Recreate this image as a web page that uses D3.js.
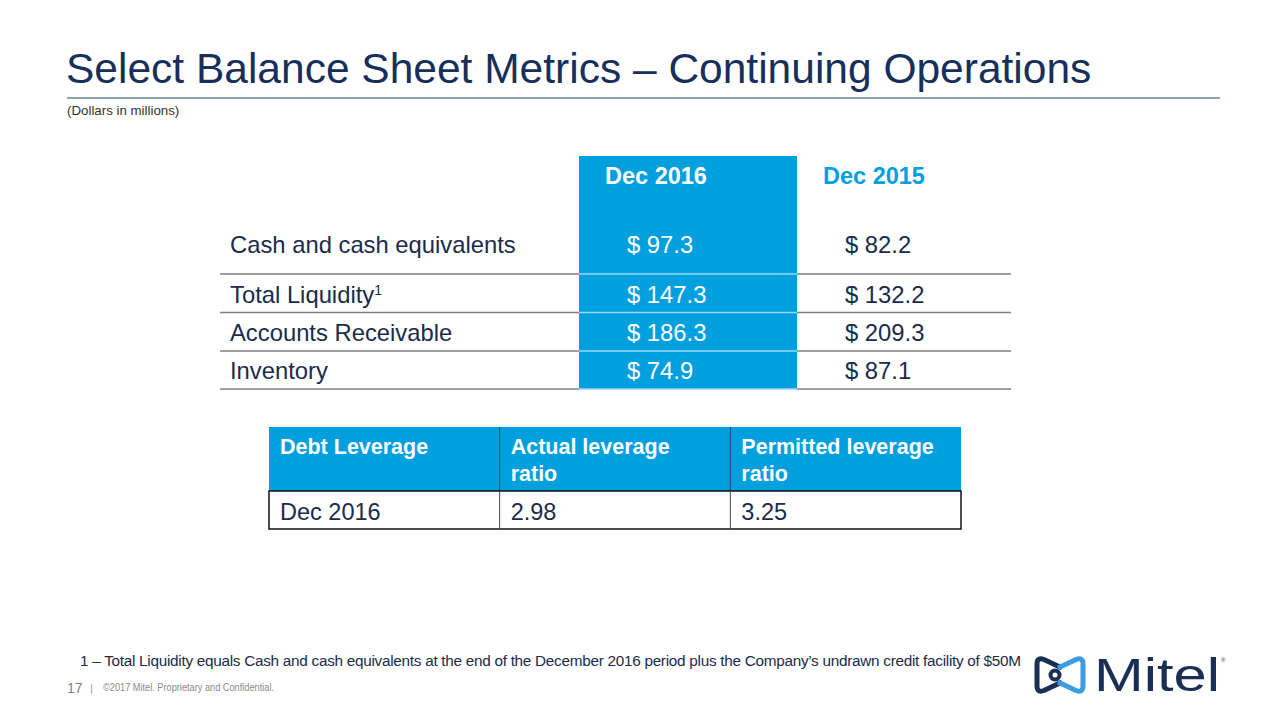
<!DOCTYPE html>
<html>
<head>
<meta charset="utf-8">
<script src="https://cdn.jsdelivr.net/npm/d3@7"></script>
<style>
  html, body { margin: 0; padding: 0; background: #ffffff; }
  svg { display: block; font-family: "Liberation Sans", Arial, sans-serif; }
</style>
</head>
<body>
<svg id="chart" width="1280" height="720"></svg>
<script>
// ---------- data ----------
const title = "Select Balance Sheet Metrics \u2013 Continuing Operations";
const subtitle = "(Dollars in millions)";
const periods = ["Dec 2016", "Dec 2015"];
const metrics = ["Cash and cash equivalents", "Total Liquidity", "Accounts Receivable", "Inventory"];
const metricNotes = ["", "1", "", ""];
const values2016 = [97.3, 147.3, 186.3, 74.9];
const values2015 = [82.2, 132.2, 209.3, 87.1];
const leverageHeaders = [["Debt Leverage"], ["Actual leverage", "ratio"], ["Permitted leverage", "ratio"]];
const leveragePeriod = "Dec 2016";
const leverageValues = [2.98, 3.25];
const footnote = "1 \u2013 Total Liquidity equals Cash and cash equivalents at the end of the December 2016 period plus the Company\u2019s undrawn credit facility of $50M";
const pageNumber = "17";
const copyright = "\u00a92017 Mitel. Proprietary and Confidential.";

// ---------- styles ----------
const NAVY = "#1a2b4c";
const TITLE = "#172f5b";
const BLUE = "#00a0df";
const svg = d3.select("#chart");

// ---------- title ----------
svg.append("text").attr("x", 66).attr("y", 83)
  .attr("font-size", 42.5).attr("fill", TITLE).text(title);
svg.append("line").attr("x1", 67).attr("x2", 1220).attr("y1", 98).attr("y2", 98)
  .attr("stroke", "#8ba6b1").attr("stroke-width", 2);
svg.append("text").attr("x", 67).attr("y", 115)
  .attr("font-size", 13.3).attr("fill", "#333").text(subtitle);

// ---------- table 1 ----------
const colKeys = ["label", ...periods];
const colX = d3.scaleOrdinal().domain(colKeys).range([220, 579, 797]);
const colEnd = d3.scaleOrdinal().domain(colKeys).range([579, 797, 1011]);
const tableTop = 156;
const rowBottom = d3.scaleOrdinal().domain(metrics).range([274, 312.5, 351, 389]);
const rowBaseline = d3.scaleOrdinal().domain(metrics).range([253, 302.5, 341, 379]);
const fmt = v => "$ " + d3.format(".1f")(v);

// highlighted column
svg.append("rect")
  .attr("x", colX(periods[0])).attr("y", tableTop)
  .attr("width", colEnd(periods[0]) - colX(periods[0]))
  .attr("height", rowBottom(metrics[metrics.length - 1]) - tableTop)
  .attr("fill", BLUE);

// header
svg.selectAll("text.hdr").data(periods).join("text").attr("class", "hdr")
  .attr("x", d => colX(d) + 26).attr("y", 184)
  .attr("font-size", 23.5).attr("font-weight", "bold")
  .attr("fill", (d, i) => i === 0 ? "#ffffff" : BLUE)
  .text(d => d);

// separator lines
metrics.forEach(m => {
  colKeys.forEach((c, ci) => {
    svg.append("line")
      .attr("x1", colX(c)).attr("x2", colEnd(c))
      .attr("y1", rowBottom(m)).attr("y2", rowBottom(m))
      .attr("stroke", ci === 1 ? "#9bd8f2" : "#7f7f7f").attr("stroke-width", 1.5);
  });
});

// row labels
const labels = svg.selectAll("text.lbl").data(metrics).join("text").attr("class", "lbl")
  .attr("x", 230).attr("y", d => rowBaseline(d))
  .attr("font-size", 23.8).attr("fill", NAVY);
labels.append("tspan").text(d => d);
labels.append("tspan").attr("dy", -8).attr("font-size", 14)
  .text((d, i) => metricNotes[i]);

// values
svg.selectAll("text.v16").data(values2016).join("text").attr("class", "v16")
  .attr("x", colX(periods[0]) + 48).attr("y", (d, i) => rowBaseline(metrics[i]))
  .attr("font-size", 23.8).attr("fill", "#ffffff").text(fmt);
svg.selectAll("text.v15").data(values2015).join("text").attr("class", "v15")
  .attr("x", colX(periods[1]) + 48).attr("y", (d, i) => rowBaseline(metrics[i]))
  .attr("font-size", 23.8).attr("fill", NAVY).text(fmt);

// ---------- table 2 ----------
const lx = d3.scaleBand().domain(d3.range(leverageHeaders.length)).range([269, 961]);
const hTop = 427, hBot = 491, dBot = 529;
svg.append("rect").attr("x", lx.range()[0]).attr("y", hTop)
  .attr("width", lx.range()[1] - lx.range()[0]).attr("height", hBot - hTop).attr("fill", BLUE);
// header dividers
d3.range(1, leverageHeaders.length).forEach(i => {
  svg.append("line").attr("x1", lx(i)).attr("x2", lx(i)).attr("y1", hTop).attr("y2", hBot)
    .attr("stroke", "#2b3f5f").attr("stroke-width", 1);
});
// header text
leverageHeaders.forEach((lines, i) => {
  const t = svg.append("text").attr("x", lx(i) + 11).attr("y", 454)
    .attr("font-size", 21.5).attr("font-weight", "bold").attr("fill", "#ffffff");
  lines.forEach((ln, j) => t.append("tspan").attr("x", lx(i) + 11).attr("dy", j ? 27 : 0).text(ln));
});
// data row
svg.append("rect").attr("x", lx.range()[0]).attr("y", hBot)
  .attr("width", lx.range()[1] - lx.range()[0]).attr("height", dBot - hBot)
  .attr("fill", "#fff").attr("stroke", "#111").attr("stroke-width", 1.5);
d3.range(1, leverageHeaders.length).forEach(i => {
  svg.append("line").attr("x1", lx(i)).attr("x2", lx(i)).attr("y1", hBot).attr("y2", dBot)
    .attr("stroke", "#444").attr("stroke-width", 1);
});
const rowCells = [leveragePeriod, ...leverageValues.map(d3.format(".2f"))];
svg.selectAll("text.lev").data(rowCells).join("text").attr("class", "lev")
  .attr("x", (d, i) => lx(i) + 11).attr("y", 520)
  .attr("font-size", 23.5).attr("fill", NAVY).text(d => d);

// ---------- footnote & footer ----------
svg.append("text").attr("x", 80).attr("y", 666).attr("font-size", 15.3)
  .attr("fill", NAVY).attr("textLength", 941).attr("lengthAdjust", "spacing").text(footnote);
svg.append("text").attr("x", 67).attr("y", 693).attr("font-size", 14).attr("fill", "#7f7f7f").text(pageNumber);
svg.append("text").attr("x", 90).attr("y", 692).attr("font-size", 11).attr("fill", "#9a9a9a").text("|");
svg.append("text").attr("x", 103).attr("y", 691).attr("font-size", 10)
  .attr("textLength", 171).attr("lengthAdjust", "spacingAndGlyphs")
  .attr("fill", "#8a8a8a").text(copyright);

// ---------- logo ----------
const logo = svg.append("g");
logo.append("path")
  .attr("d", "M1062,668 L1044,659.5 Q1037,657 1037,664 L1037,686 Q1037,693 1044,690.5 L1062,682")
  .attr("fill", "none").attr("stroke", "#1b2f55").attr("stroke-width", 5).attr("stroke-linejoin", "round");
logo.append("path")
  .attr("d", "M1058,668 L1076,659.5 Q1083,657 1083,664 L1083,686 Q1083,693 1076,690.5 L1058,682")
  .attr("fill", "none").attr("stroke", "#3c9de0").attr("stroke-width", 5).attr("stroke-linejoin", "round");
logo.append("circle").attr("cx", 1055).attr("cy", 675).attr("r", 4.5)
  .attr("fill", "none").attr("stroke", "#1b2f55").attr("stroke-width", 4);
logo.append("text").attr("x", 1094).attr("y", 691).attr("font-size", 47).attr("fill", "#1b2f55")
  .attr("textLength", 126).attr("lengthAdjust", "spacingAndGlyphs").text("Mitel");
logo.append("text").attr("x", 1221).attr("y", 662).attr("font-size", 6).attr("fill", "#1b2f55").text("\u00ae");
</script>
</body>
</html>
